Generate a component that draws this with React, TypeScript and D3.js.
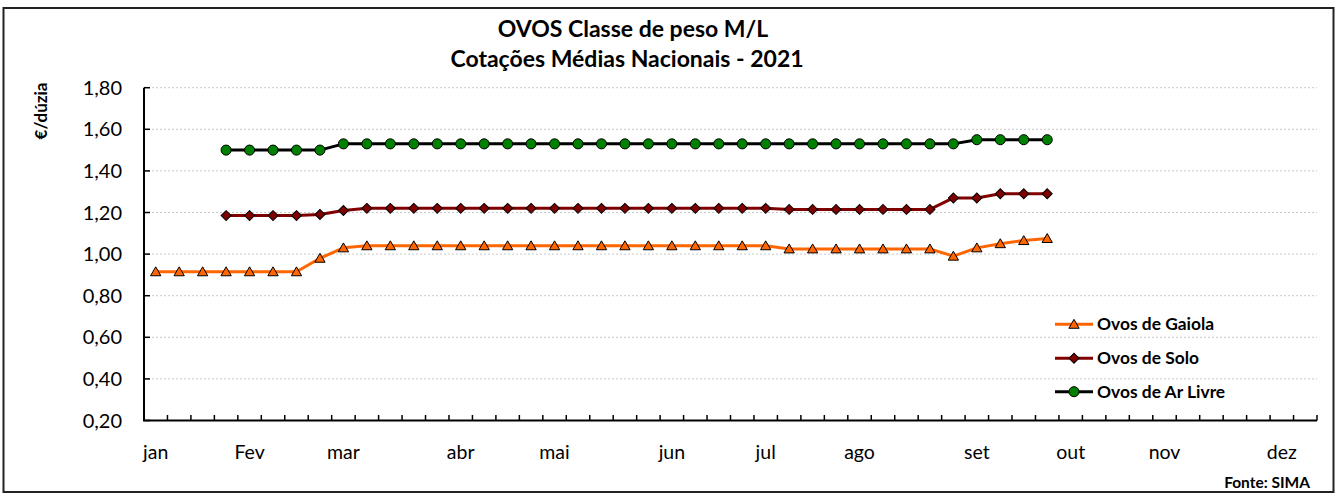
import React from 'react';
import * as d3 from 'd3';

// ---- data ----
const weekCount = 50;
const monthLabels = ['jan', 'Fev', 'mar', 'abr', 'mai', 'jun', 'jul', 'ago', 'set', 'out', 'nov', 'dez'];
const monthWeeks = [0, 4, 8, 13, 17, 22, 26, 30, 35, 39, 43, 48];
const yTicks = [0.2, 0.4, 0.6, 0.8, 1.0, 1.2, 1.4, 1.6, 1.8];

const gaiolaStart = 0;
const gaiola = [
  0.915, 0.915, 0.915, 0.915, 0.915, 0.915, 0.915, 0.98, 1.03,
  1.04, 1.04, 1.04, 1.04, 1.04, 1.04, 1.04, 1.04, 1.04, 1.04, 1.04, 1.04, 1.04, 1.04, 1.04, 1.04, 1.04, 1.04,
  1.025, 1.025, 1.025, 1.025, 1.025, 1.025, 1.025,
  0.99, 1.03, 1.05, 1.065, 1.075,
];
const soloStart = 3;
const solo = [
  1.185, 1.185, 1.185, 1.185, 1.19, 1.21,
  1.22, 1.22, 1.22, 1.22, 1.22, 1.22, 1.22, 1.22, 1.22, 1.22, 1.22, 1.22, 1.22, 1.22, 1.22, 1.22, 1.22, 1.22,
  1.215, 1.215, 1.215, 1.215, 1.215, 1.215, 1.215,
  1.27, 1.27, 1.29, 1.29, 1.29,
];
const arLivreStart = 3;
const arLivre = [
  1.5, 1.5, 1.5, 1.5, 1.5,
  1.53, 1.53, 1.53, 1.53, 1.53, 1.53, 1.53, 1.53, 1.53, 1.53, 1.53, 1.53, 1.53, 1.53, 1.53, 1.53, 1.53, 1.53,
  1.53, 1.53, 1.53, 1.53, 1.53, 1.53, 1.53, 1.53, 1.53,
  1.55, 1.55, 1.55, 1.55,
];

const seriesNames = ['Ovos de Gaiola', 'Ovos de Solo', 'Ovos de Ar Livre'];

// ---- layout ----
const W = 1336;
const H = 495;
const plot = { left: 144, right: 1317, top: 87.7, bottom: 420.5 };
const FONT = 'Lato, Carlito, Calibri, sans-serif';

const x = d3.scaleBand<number>().domain(d3.range(weekCount)).range([plot.left, plot.right]).padding(0);
const cx = (i: number) => (x(i) as number) + x.bandwidth() / 2;
const y = d3.scaleLinear().domain([0.2, 1.8]).range([plot.bottom, plot.top]);
const fmt = (v: number) => d3.format('.2f')(v).replace('.', ',');

type Series = { name: string; start: number; values: number[]; line: string; fill: string; marker: string };
const series: Series[] = [
  { name: seriesNames[0], start: gaiolaStart, values: gaiola, line: '#FF6600', fill: '#FF6600', marker: 'triangle' },
  { name: seriesNames[1], start: soloStart, values: solo, line: '#800000', fill: '#800000', marker: 'diamond' },
  { name: seriesNames[2], start: arLivreStart, values: arLivre, line: '#000000', fill: '#008000', marker: 'circle' },
];

const symbolPath = (m: string) => {
  if (m === 'triangle') return d3.symbol(d3.symbolTriangle, 46)() as string;
  if (m === 'diamond') return d3.symbol(d3.symbolSquare, 50)() as string;
  return d3.symbol(d3.symbolCircle, 80)() as string;
};

function Marker({ m, px, py, fill }: { m: string; px: number; py: number; fill: string }) {
  const rot = m === 'diamond' ? ' rotate(45)' : '';
  const dy = m === 'triangle' ? 1 : 0;
  return (
    <path
      d={symbolPath(m)}
      transform={`translate(${px},${py + dy})${rot}`}
      fill={fill}
      stroke="#000"
      strokeWidth={1}
    />
  );
}

export default function App() {
  const line = d3
    .line<[number, number]>()
    .x((d) => d[0])
    .y((d) => d[1]);

  const legendY = [324.3, 358.3, 391.7];

  return (
    <svg
      width={W}
      height={H}
      style={{ position: 'absolute', left: 0, top: 0, background: '#fff' }}
      fontFamily={FONT}
    >
      <rect x={0} y={0} width={W} height={H} fill="#fff" />
      <rect x={3.5} y={8} width={1330} height={484} fill="#fff" stroke="#222" strokeWidth={2} />

      {/* title */}
      <text x={633} y={37.3} textAnchor="middle" fontSize={23} fontWeight="bold" fill="#000">
        OVOS Classe de peso M/L
      </text>
      <text x={627} y={67} textAnchor="middle" fontSize={23} fontWeight="bold" fill="#000">
        Cotações Médias Nacionais - 2021
      </text>

      {/* gridlines */}
      {yTicks.slice(1).map((t) => (
        <line
          key={`g${t}`}
          x1={plot.left}
          x2={plot.right}
          y1={y(t)}
          y2={y(t)}
          stroke="#c8c8c8"
          strokeWidth={1}
          strokeDasharray="2,2"
        />
      ))}

      {/* y axis */}
      <line x1={plot.left} x2={plot.left} y1={plot.top} y2={plot.bottom} stroke="#000" strokeWidth={2} />
      {yTicks.map((t) => (
        <g key={`y${t}`}>
          <line x1={plot.left} x2={plot.left + 6} y1={y(t)} y2={y(t)} stroke="#000" strokeWidth={1.5} />
          <text x={122} y={y(t)} dy="0.35em" textAnchor="end" fontSize={20} fill="#000">
            {fmt(t)}
          </text>
        </g>
      ))}
      <text
        transform={`translate(47,111) rotate(-90)`}
        textAnchor="middle"
        fontSize={17}
        fontWeight="bold"
        fill="#000"
      >
        €/dúzia
      </text>

      {/* x axis */}
      <line x1={plot.left - 1} x2={plot.right} y1={plot.bottom} y2={plot.bottom} stroke="#000" strokeWidth={2} />
      {d3.range(weekCount + 1).map((i) => {
        const xx = i === weekCount ? plot.right : (x(i) as number);
        return (
          <line key={`xt${i}`} x1={xx} x2={xx} y1={plot.bottom} y2={plot.bottom - 5.5} stroke="#000" strokeWidth={1.5} />
        );
      })}
      {monthLabels.map((lab, k) => (
        <text key={lab} x={cx(monthWeeks[k])} y={451.7} dy="0.35em" textAnchor="middle" fontSize={19.5} fill="#000">
          {lab}
        </text>
      ))}

      {/* series */}
      {series.map((s) => {
        const pts: [number, number][] = s.values.map((v, k) => [cx(s.start + k), y(v)]);
        return (
          <g key={s.name}>
            <path d={line(pts) as string} fill="none" stroke={s.line} strokeWidth={3} strokeLinejoin="round" />
            {pts.map((p, k) => (
              <Marker key={k} m={s.marker} px={p[0]} py={p[1]} fill={s.fill} />
            ))}
          </g>
        );
      })}

      {/* legend */}
      {series.map((s, k) => (
        <g key={`l${k}`}>
          <line x1={1055} x2={1093} y1={legendY[k]} y2={legendY[k]} stroke={s.line} strokeWidth={3} />
          <Marker m={s.marker} px={1074} py={legendY[k]} fill={s.fill} />
          <text x={1097} y={legendY[k]} dy="0.35em" fontSize={17.4} fontWeight="bold" fill="#000">
            {s.name}
          </text>
        </g>
      ))}

      {/* source */}
      <text x={1310} y={483} dy="0.35em" textAnchor="end" fontSize={15.5} fontWeight="bold" fill="#000">
        Fonte: SIMA
      </text>
    </svg>
  );
}
